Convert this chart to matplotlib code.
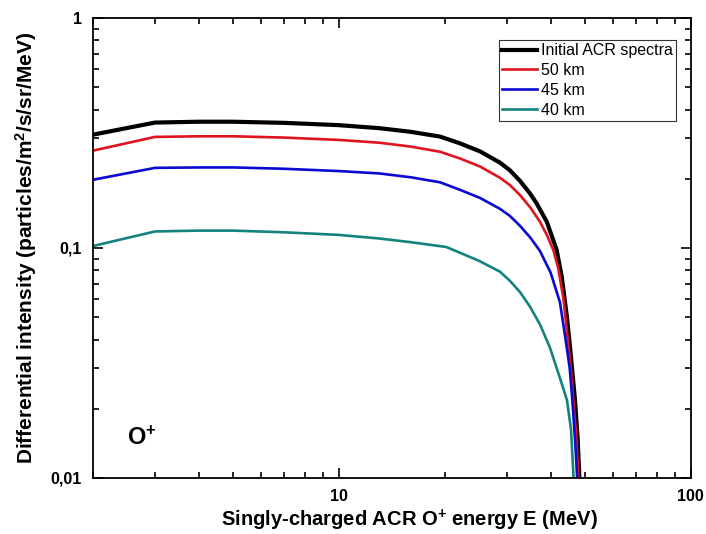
import matplotlib
matplotlib.use("Agg")
import matplotlib.pyplot as plt
from matplotlib.ticker import LogLocator, NullFormatter, FixedLocator, FixedFormatter

plt.rcParams['font.family'] = ['Liberation Sans', 'DejaVu Sans']
plt.rcParams['mathtext.fontset'] = 'custom'
plt.rcParams['mathtext.rm'] = 'Liberation Sans:bold'
plt.rcParams['mathtext.bf'] = 'Liberation Sans:bold'
plt.rcParams['mathtext.default'] = 'bf'

# energies (MeV) and intensities
E_init = [2, 3, 4, 5, 7, 10, 13, 16, 19.4, 22.1, 25.2, 28.7, 30.6, 32.7, 35, 36.5, 39, 41.6, 43, 44.5, 45.4, 46.2, 46.9, 47.7, 48.3]
I_init = [0.311, 0.351, 0.354, 0.354, 0.350, 0.342, 0.332, 0.320, 0.305, 0.285, 0.263, 0.235, 0.218, 0.196, 0.172, 0.156, 0.130, 0.098, 0.075, 0.050, 0.037, 0.028, 0.0218, 0.015, 0.0098]

E_50 = [2, 3, 4, 5, 7, 10, 13, 16, 19.4, 22.1, 25.2, 28.7, 30.6, 32.7, 35, 37.3, 39, 40.7, 42, 43.5, 44.9, 45.7, 46.4, 47.3, 48.0]
I_50 = [0.265, 0.304, 0.306, 0.306, 0.302, 0.295, 0.287, 0.276, 0.262, 0.245, 0.226, 0.202, 0.188, 0.170, 0.150, 0.130, 0.114, 0.098, 0.082, 0.060, 0.038, 0.029, 0.0218, 0.015, 0.0098]

E_45 = [2, 3, 4, 5, 7, 10, 13, 16, 19.4, 22.1, 25.2, 28.7, 30.6, 32.7, 35, 37.3, 40, 42.5, 44, 45.3, 46.1, 47.0, 47.6]
I_45 = [0.198, 0.223, 0.224, 0.224, 0.221, 0.216, 0.211, 0.203, 0.193, 0.179, 0.165, 0.148, 0.138, 0.125, 0.111, 0.097, 0.078, 0.058, 0.041, 0.030, 0.0218, 0.014, 0.0098]

E_40 = [2, 3, 4, 5, 7, 10, 13, 16, 20.2, 25, 28.7, 30.6, 32.7, 34.9, 37.3, 39.8, 42.5, 44.5, 45.7, 46.5]
I_40 = [0.102, 0.118, 0.119, 0.119, 0.117, 0.114, 0.110, 0.106, 0.101, 0.088, 0.0789, 0.0721, 0.0644, 0.0557, 0.0465, 0.0369, 0.0272, 0.0218, 0.0162, 0.0098]

labels = ["Initial ACR spectra", "50 km", "45 km", "40 km"]
colors = ["#000000", "#e0141e", "#0a0ad2", "#14827f"]
widths = [3.0, 1.9, 1.9, 1.9]

fig = plt.figure(figsize=(7.06, 5.34), dpi=100)
ax = fig.add_axes([0.1317, 0.1049, 0.8466, 0.8614])

series = [(E_init, I_init), (E_50, I_50), (E_45, I_45), (E_40, I_40)]
for (e, i), lab, c, w in zip(series, labels, colors, widths):
    ax.plot(e, i, color=c, lw=w, label=lab, solid_joinstyle='round')

ax.set_xscale('log')
ax.set_yscale('log')
ax.set_xlim(2, 100)
ax.set_ylim(0.01, 1)

ax.xaxis.set_major_locator(FixedLocator([10, 100]))
ax.xaxis.set_major_formatter(FixedFormatter(["10", "100"]))
ax.xaxis.set_minor_locator(LogLocator(base=10, subs=range(2, 10)))
ax.xaxis.set_minor_formatter(NullFormatter())
ax.yaxis.set_major_locator(FixedLocator([0.01, 0.1, 1]))
ax.yaxis.set_major_formatter(FixedFormatter(["0,01", "0,1", "1"]))
ax.yaxis.set_minor_locator(LogLocator(base=10, subs=range(2, 10)))
ax.yaxis.set_minor_formatter(NullFormatter())

ax.tick_params(which='both', direction='in', top=True, right=True, width=1.2)
ax.tick_params(which='major', length=7, labelsize=11.5, pad=8)
ax.tick_params(which='minor', length=4)
for t in ax.get_xticklabels() + ax.get_yticklabels():
    t.set_fontweight('bold')
for s in ax.spines.values():
    s.set_linewidth(1.3)

ax.set_xlabel("Singly-charged ACR O$^{+}$ energy E (MeV)", fontsize=14.5, fontweight='bold')
ax.xaxis.set_label_coords(0.529, -0.065)
ax.set_ylabel("Differential intensity (particles/m$^{2}$/s/sr/MeV)", fontsize=15, fontweight='bold')
ax.yaxis.set_label_coords(-0.09, 0.5)

ax.text(0.057, 0.072, "O$^{+}$", transform=ax.transAxes, fontsize=17, fontweight='bold')

leg = ax.legend(loc='upper right', bbox_to_anchor=(0.975, 0.952), fontsize=11.5,
                frameon=True, fancybox=False, handlelength=2.2, handletextpad=0.2,
                borderpad=0.2, labelspacing=0.3, borderaxespad=0)
leg.get_frame().set_edgecolor('black')
leg.get_frame().set_linewidth(0.8)

fig.savefig("out.png", dpi=100)
